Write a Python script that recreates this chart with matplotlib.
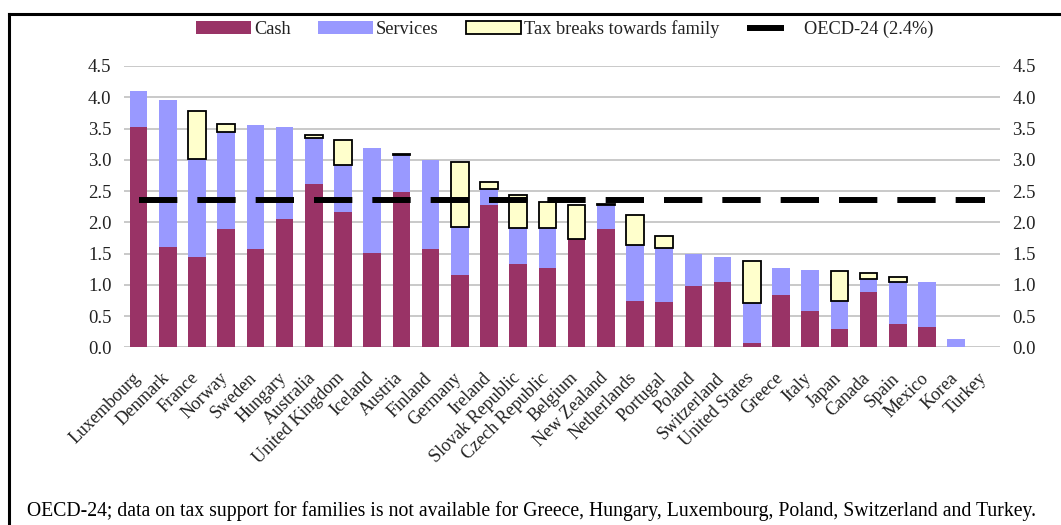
import matplotlib
matplotlib.use("Agg")
import matplotlib.pyplot as plt
from matplotlib.lines import Line2D
from matplotlib.patches import Patch
from matplotlib.legend_handler import HandlerBase
import matplotlib.transforms as mtransforms
import numpy as np

plt.rcParams['font.family'] = ['Liberation Serif', 'DejaVu Serif']

countries = ["Luxembourg", "Denmark", "France", "Norway", "Sweden", "Hungary",
             "Australia", "United Kingdom", "Iceland", "Austria", "Finland",
             "Germany", "Ireland", "Slovak Republic", "Czech Republic", "Belgium",
             "New Zealand", "Netherlands", "Portugal", "Poland", "Switzerland",
             "United States", "Greece", "Italy", "Japan", "Canada", "Spain",
             "Mexico", "Korea", "Turkey"]
cash = [3.53, 1.60, 1.44, 1.89, 1.58, 2.05, 2.62, 2.17, 1.51, 2.49, 1.58,
        1.15, 2.27, 1.34, 1.27, 1.73, 1.89, 0.74, 0.72, 0.98, 1.05, 0.07,
        0.84, 0.58, 0.29, 0.89, 0.38, 0.32, 0.01, 0.00]
services = [0.57, 2.36, 1.58, 1.56, 1.97, 1.48, 0.73, 0.75, 1.68, 0.59, 1.41,
            0.78, 0.26, 0.57, 0.64, 0.00, 0.38, 0.90, 0.87, 0.52, 0.40, 0.64,
            0.43, 0.66, 0.45, 0.20, 0.66, 0.73, 0.12, 0.00]
tax = [0.00, 0.00, 0.76, 0.13, 0.00, 0.00, 0.05, 0.39, 0.00, 0.02, 0.00,
       1.04, 0.11, 0.52, 0.42, 0.55, 0.02, 0.47, 0.19, 0.00, 0.00, 0.67,
       0.00, 0.00, 0.48, 0.10, 0.09, 0.00, 0.00, 0.00]
oecd_avg = 2.36
yticks = [0.0, 0.5, 1.0, 1.5, 2.0, 2.5, 3.0, 3.5, 4.0, 4.5]
footnote = ("OECD-24; data on tax support for families is not available for Greece, "
            "Hungary, Luxembourg, Poland, Switzerland and Turkey.")

c_cash = '#993366'
c_serv = '#9999FF'
c_tax = '#FFFFCC'
txt = '#222222'


class ShortLine(HandlerBase):
    # legend key for the average line, shorter than the patch keys
    def create_artists(self, legend, orig_handle, xdescent, ydescent, width,
                       height, fontsize, trans):
        y = height / 2 - ydescent
        l = Line2D([-xdescent, -xdescent + width * 0.68], [y, y], color='black',
                   lw=4.3, solid_capstyle='butt', transform=trans)
        return [l]


W, H = 1061, 525
fig = plt.figure(figsize=(W / 100, H / 100), dpi=100)
ax = fig.add_axes([124 / W, 1 - 347.3 / H, 876 / W, (347.3 - 66) / H])

x = np.arange(len(countries))
cash = np.array(cash)
services = np.array(services)
tax = np.array(tax)
bw = 0.6

ax.bar(x, cash, bw, color=c_cash, zorder=2)
ax.bar(x, services, bw, bottom=cash, color=c_serv, zorder=2)
lws = [1.3 if t > 0 else 0 for t in tax]
ax.bar(x, tax, bw, bottom=cash + services, color=c_tax, edgecolor='black',
       linewidth=lws, zorder=2)

# OECD average as thick dashed line
lw = 4.3
ax.plot([x[0], x[-1]], [oecd_avg, oecd_avg], color='black', lw=lw,
        linestyle=(0, (27.6 / lw, 14.4 / lw)), solid_capstyle='butt',
        dash_capstyle='butt', zorder=3)

ax.set_xlim(-0.5, len(countries) - 0.5)
ax.set_ylim(0, 4.5)
ax.set_yticks(yticks)
ax.set_yticklabels(["%.1f" % v for v in yticks])
ax.yaxis.grid(True, color='#C0C0C0', lw=1.2, zorder=0)
ax.set_axisbelow(True)
for s in ax.spines.values():
    s.set_visible(False)
ax.tick_params(axis='y', length=0, pad=9, labelsize=13.5, colors=txt,
               labelright=True)
ax.tick_params(axis='x', length=0, pad=16)
ax.set_xticks(x)
ax.set_xticklabels(countries, rotation=45, ha='right', rotation_mode='anchor',
                   fontsize=13, color=txt)
shift = mtransforms.ScaledTranslation(-0.07, 0, fig.dpi_scale_trans)
for lab in ax.get_xticklabels():
    lab.set_transform(lab.get_transform() + shift)

handles = [Patch(facecolor=c_cash), Patch(facecolor=c_serv),
           Patch(facecolor=c_tax, edgecolor='black', linewidth=1.3),
           Line2D([0], [0], color='black', lw=4.3)]
labels = ["Cash", "Services", "Tax breaks towards family", "OECD-24 (2.4%)"]
fig.legend(handles, labels, ncol=4, loc='center', bbox_to_anchor=(0.5325, 1 - 29 / H),
           frameon=False, fontsize=13.2, handlelength=3.0, handleheight=0.76,
           handletextpad=0.15, columnspacing=1.5, labelcolor=txt,
           handler_map={Line2D: ShortLine()})

fig.text(27 / W, 1 - 511 / H, footnote, fontsize=14.2, va='center', ha='left')

# frame lines (top and left)
fig.add_artist(Line2D([8.5 / W, 1], [1 - 13.5 / H, 1 - 13.5 / H], color='black',
                      lw=2.2, transform=fig.transFigure))
fig.add_artist(Line2D([8.5 / W, 8.5 / W], [0, 1 - 13.5 / H], color='black',
                      lw=2.2, transform=fig.transFigure))

fig.savefig("out.png", dpi=100)
